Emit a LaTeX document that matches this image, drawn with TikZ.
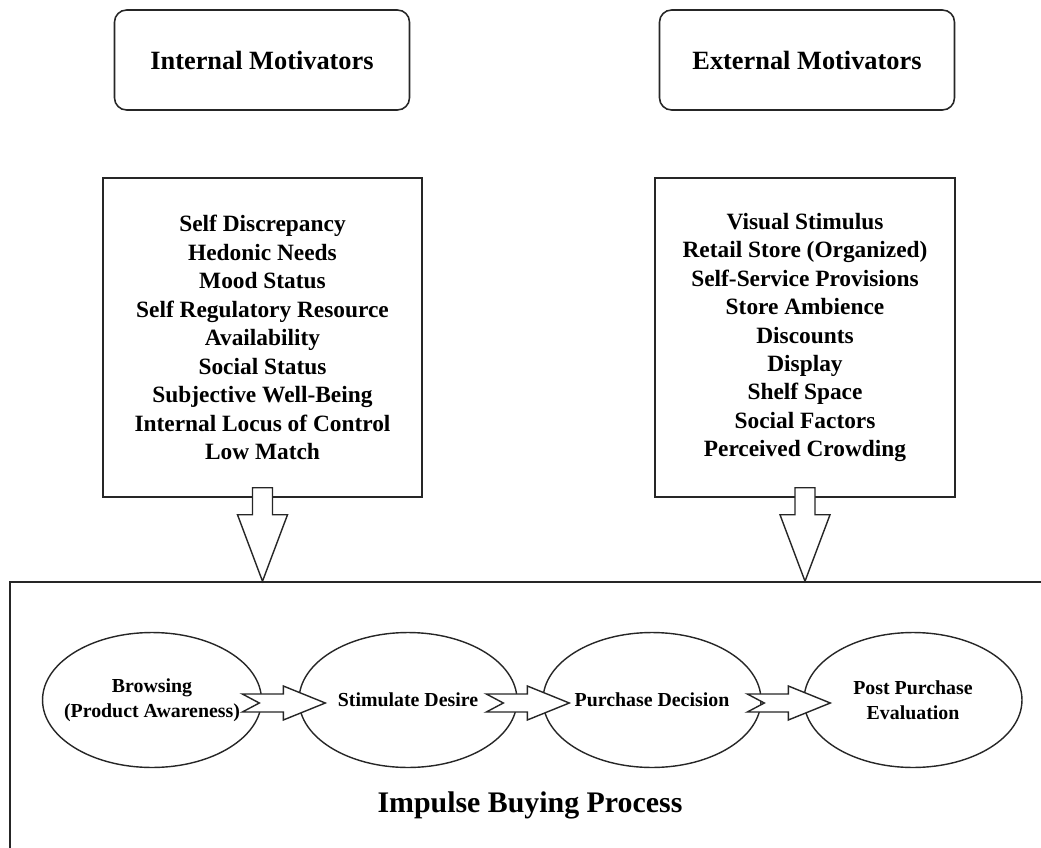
\documentclass[tikz,border=0pt]{standalone}
\usepackage{fontspec}
\setmainfont{Liberation Serif}
\usetikzlibrary{shapes.geometric,calc}

\tikzset{
  titlebox/.style={draw=black!85, line width=0.9pt, rounded corners=0.24cm,
    minimum width=5.9cm, minimum height=2cm,
    font=\fontsize{15}{18}\selectfont\bfseries},
  listbox/.style={draw=black!85, line width=0.9pt, minimum height=6.38cm,
    align=center, font=\fontsize{13.3}{16.2}\selectfont\bfseries},
  stage/.style={draw=black!85, line width=0.8pt, ellipse, inner xsep=-6pt,
    inner ysep=0pt, minimum width=4.36cm, minimum height=2.7cm, align=center,
    font=\fontsize{11.3}{14.2}\selectfont\bfseries},
  flatarrow/.style={draw=black!85, line width=0.8pt, fill=white, line join=miter}
}

% notched block arrow ending inside the next stage
\newcommand{\stagearrow}[2]{%
  \begin{scope}[shift={($(#2.west)+(27,3)$)}]
    \draw[flatarrow] (-83,-9) -- (-42,-9) -- (-42,-17) -- (0,0) -- (-42,17)
      -- (-42,9) -- (-83,9) -- (-66,0) -- cycle;
  \end{scope}}

% block arrow from a list box down to the process box
\newcommand{\feedarrow}[2]{%
  \draw[flatarrow] ([shift={(-10,-10)}]#1.south) -- ([shift={(-10,17)}]#1.south)
    -- ([shift={(-25,17)}]#1.south) -- (#1.south |- #2.north)
    -- ([shift={(25,17)}]#1.south) -- ([shift={(10,17)}]#1.south)
    -- ([shift={(10,-10)}]#1.south) -- cycle;}

\begin{document}
\begin{tikzpicture}[x=0.02cm, y=-0.02cm]
  \useasboundingbox (0,0) rectangle (1041,848);
  \clip (0,0) rectangle (1041,848);
  %
  \node[titlebox] (intmot) at (262,60) {Internal Motivators};   % left heading
  \node[titlebox] (extmot) at (807,60) {External Motivators};   % right heading
  %
  \node[listbox, minimum width=6.38cm] (intlist) at (262.5,337.5)
    {Self Discrepancy\\ Hedonic Needs\\ Mood Status\\ Self Regulatory Resource\\
     Availability\\ Social Status\\ Subjective Well-Being\\
     Internal Locus of Control\\ Low Match};
  \node[listbox, minimum width=6cm] (extlist) at (805,337.5)
    {Visual Stimulus\\ Retail Store (Organized)\\ Self-Service Provisions\\
     Store Ambience\\ Discounts\\ Display\\ Shelf Space\\ Social Factors\\
     Perceived Crowding};
  %
  \node[draw=black!85, line width=0.9pt, minimum width=20.72cm,
    minimum height=5.42cm] (process) at (528,717.5) {};   % bottom box
  %
  \node[stage] (browse) at (152,700) {Browsing\\ (Product Awareness)};
  \node[stage] (desire) at (408,700) {Stimulate Desire};
  \node[stage] (decide) at (652,700) {Purchase Decision};
  \node[stage] (evaluate) at (913,700) {Post Purchase\\ Evaluation};
  %
  \stagearrow{browse}{desire}
  \stagearrow{desire}{decide}
  \stagearrow{decide}{evaluate}
  %
  \feedarrow{intlist}{process}
  \feedarrow{extlist}{process}
  %
  \node[font=\fontsize{17}{20}\selectfont\bfseries] (proclabel) at (530,805)
    {Impulse Buying Process};
\end{tikzpicture}
\end{document}
